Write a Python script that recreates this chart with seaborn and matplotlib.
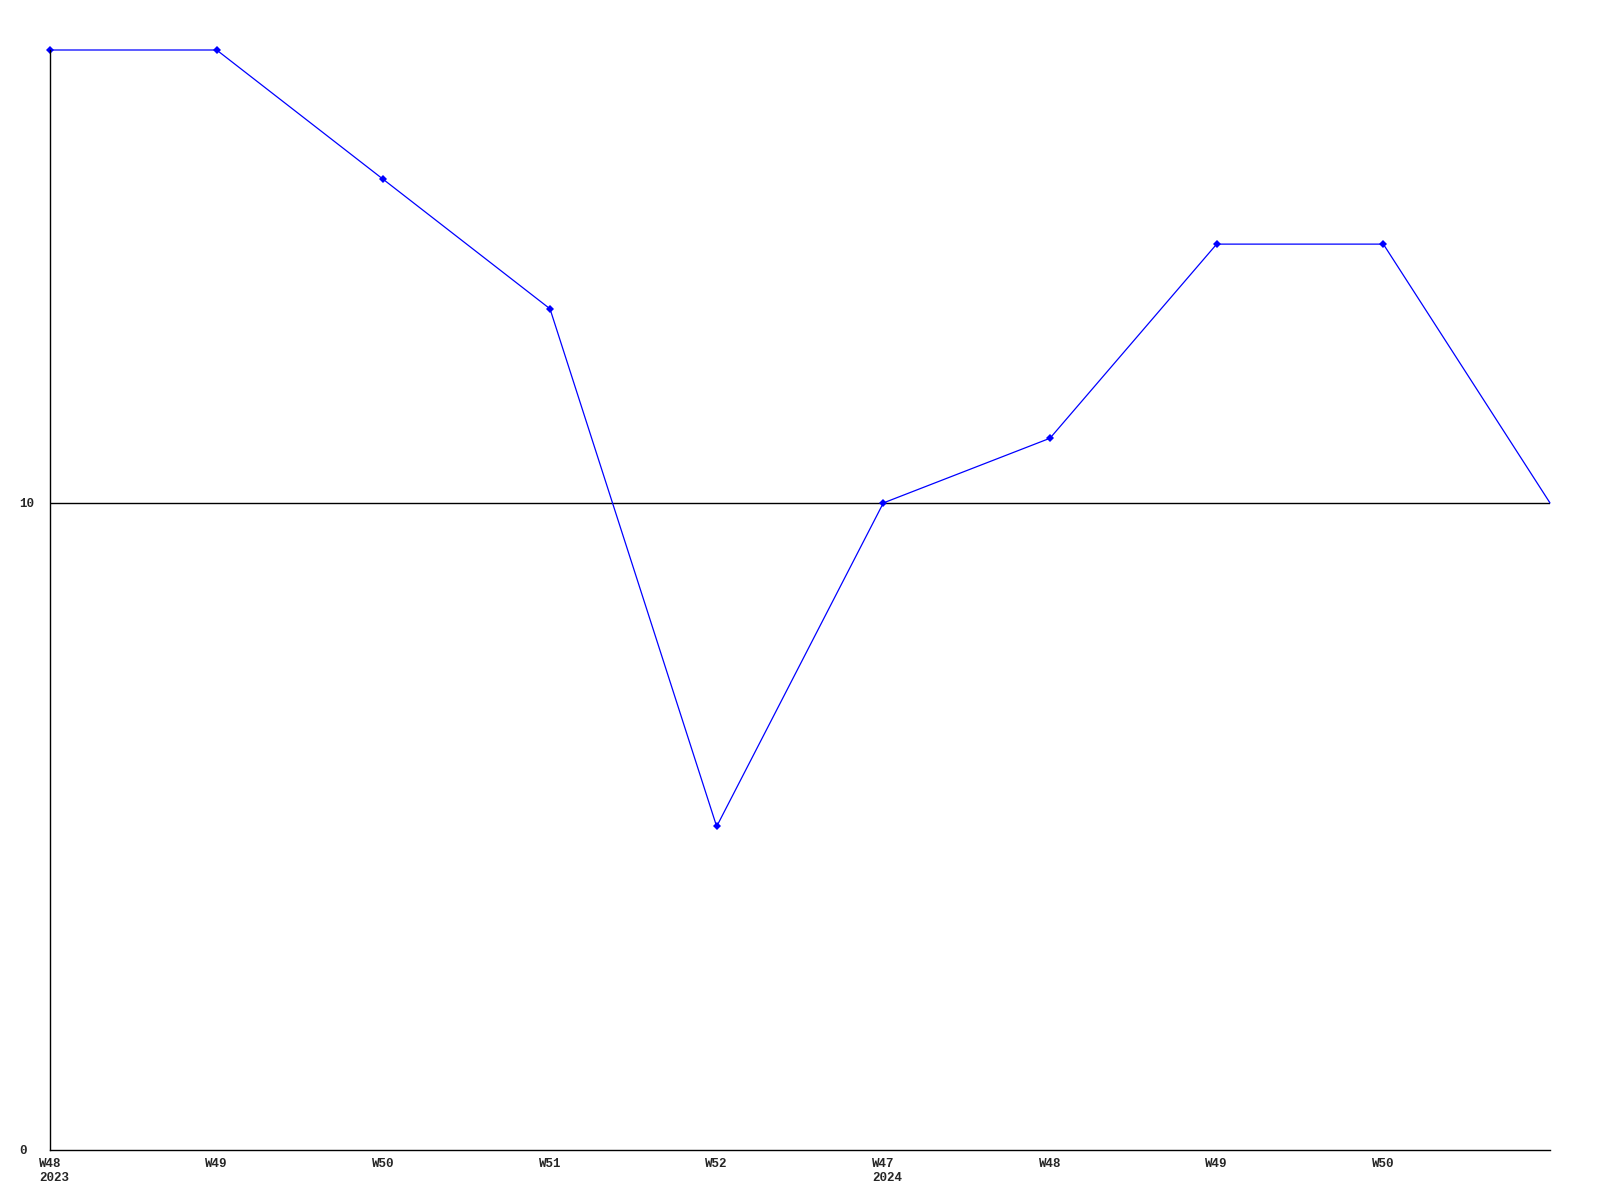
import numpy as np
import matplotlib
matplotlib.use("Agg")
import matplotlib.pyplot as plt
import matplotlib.transforms as mtransforms
import pandas as pd
import seaborn as sns

# --- Data ---
weeks = ["W48\n2023", "W49", "W50", "W51", "W52", "W47\n2024", "W48", "W49", "W50", ""]
values = [17, 17, 15, 13, 5, 10, 11, 14, 14, 10]
ref_level = 10
y_ticks = [0, 10]

df = pd.DataFrame({"pos": np.arange(len(values)), "value": values})

sns.set_style("white")
plt.rcParams["font.family"] = ["Liberation Mono", "DejaVu Sans Mono"]
plt.rcParams["font.weight"] = "bold"

fig = plt.figure(figsize=(16, 12), dpi=100)
ax = fig.add_axes([50 / 1600, 50 / 1200, 1500 / 1600, 1100 / 1200])

ax.axhline(ref_level, color="black", linewidth=1.0, zorder=1)
# last point is drawn without a marker in the original
sns.lineplot(data=df, x="pos", y="value", ax=ax, color="#0000ff", linewidth=0.9,
             marker="D", markersize=4, markeredgewidth=0, zorder=2, clip_on=False,
             markevery=list(range(len(values) - 1)))

ax.set_xlim(0, len(values) - 1)
ax.set_ylim(0, max(values))
ax.set_xticks(df["pos"])
ax.set_xticklabels(weeks, fontsize=9, fontweight="bold", multialignment="left")
ax.set_yticks(y_ticks)
ax.set_yticklabels([str(v) for v in y_ticks], fontsize=9, fontweight="bold", ha="left")
ax.tick_params(axis="x", length=0, pad=6)
ax.tick_params(axis="y", length=0, pad=22)
ax.set_xlabel("")
ax.set_ylabel("")

# two-line labels start where a one-line label would
shift = mtransforms.ScaledTranslation(4 / 100, 0, fig.dpi_scale_trans)
for lbl in ax.get_xticklabels():
    if "\n" in lbl.get_text():
        lbl.set_transform(lbl.get_transform() + shift)

for side in ["top", "right"]:
    ax.spines[side].set_visible(False)
for side in ["left", "bottom"]:
    ax.spines[side].set_color("black")
    ax.spines[side].set_linewidth(1.0)

fig.savefig("out.png", dpi=100, facecolor="white")
